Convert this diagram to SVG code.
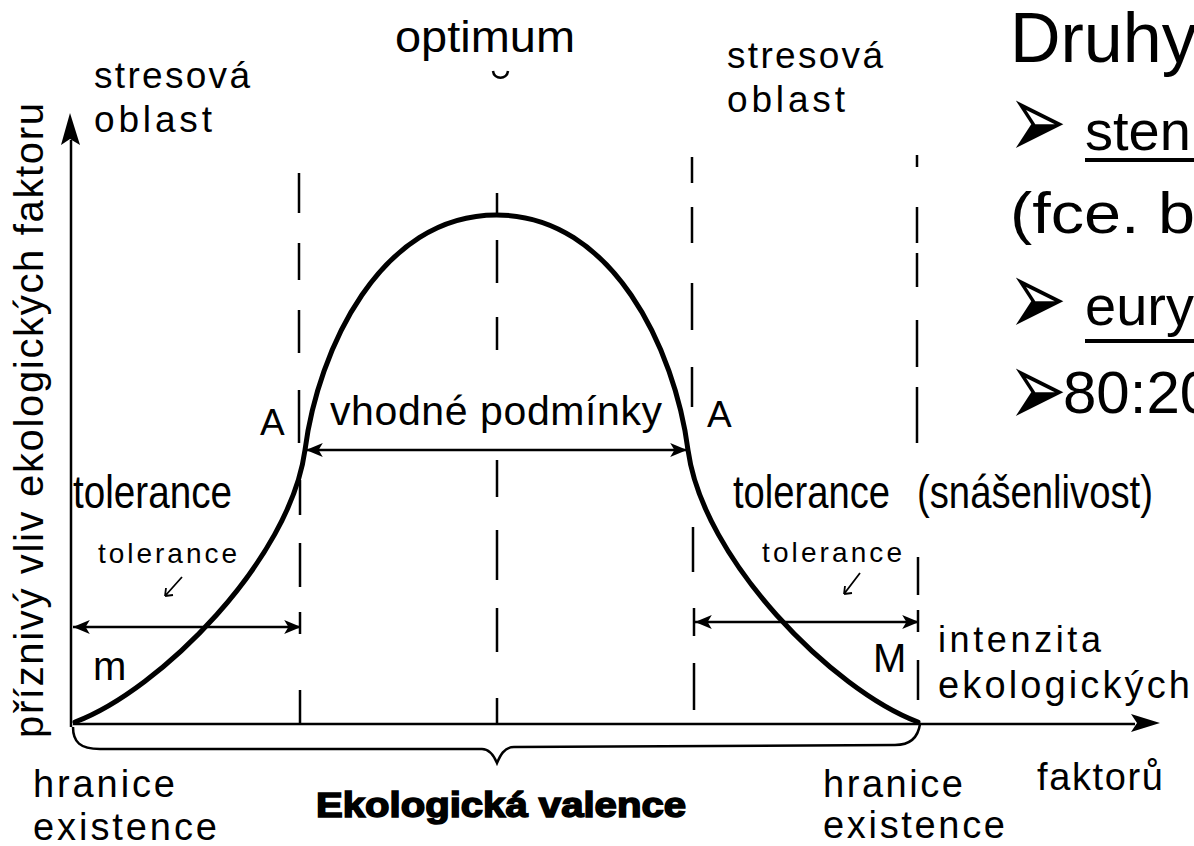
<svg xmlns="http://www.w3.org/2000/svg" width="1194" height="846" viewBox="0 0 1194 846">
<style>
.scan{font-family:"Liberation Sans",Arial,sans-serif;fill:#000;}
.big{font-family:"Liberation Sans",Arial,sans-serif;fill:#000;}
.bul{font-family:"DejaVu Sans",sans-serif;fill:#000;font-size:54px;}
.ax{stroke:#000;stroke-width:2.5;fill:none;}
.dash{stroke:#000;stroke-width:2.5;fill:none;}
.arr{stroke:#000;stroke-width:2.5;fill:none;marker-start:url(#ah);marker-end:url(#ah);}
.curve{stroke:#000;stroke-width:5;fill:none;stroke-linecap:round;}
</style>
<defs>
<marker id="ah" viewBox="0 0 12 10" markerUnits="userSpaceOnUse" markerWidth="20" markerHeight="14" refX="12" refY="5" orient="auto-start-reverse">
<path d="M0,0 L12,5 L0,10 L3,5 z" fill="#000"/>
</marker>
</defs>
<rect width="1194" height="846" fill="#fff"/>

<g id="axes">
<line class="ax" x1="71" y1="727" x2="71" y2="140"/>
<path d="M70,113 L80,145 L70,139 L61,145 z" fill="#000"/>
<line class="ax" x1="73" y1="724" x2="1135" y2="724"/>
<path d="M1160,723 L1131,714 L1137,723 L1131,732 z" fill="#000"/>
</g>

<g id="connectors">
<path class="dash" d="M299,173 V213 M299,243 V280 M299,310 V353 M299,390 V443 M300,480 V515 M300,543 V587 M300,612 V634 M300,690 V723"/>
<path class="dash" d="M497,193 V214 M497,240 V283 M497,317 V350 M497,460 V497 M497,530 V580 M497,608 V652 M497,698 V723"/>
<path class="dash" d="M692,157 V183 M692,207 V243 M692,283 V330 M692,367 V407 M693,527 V572 M694,608 V636 M694,663 V710"/>
<path class="dash" d="M917,155 V167 M917,207 V243 M917,253 V287 M917,320 V367 M917,387 V443 M918,557 V595 M918,610 V632 M918,660 V700"/>
<line class="arr" x1="306" y1="450" x2="687" y2="450"/>
<line class="arr" x1="73" y1="627" x2="301" y2="627"/>
<line class="arr" x1="695" y1="622" x2="919" y2="622"/>
<path d="M182,577 L165,596 M165,596 L166,588 M165,596 L173,595" stroke="#000" stroke-width="1.8" fill="none"/>
<path d="M860,573 L844,594 M844,594 L845,586 M844,594 L852,593" stroke="#000" stroke-width="1.8" fill="none"/>
<path d="M493,71 C494,80 507,80 508,71" stroke="#000" stroke-width="2.5" fill="none"/>
<path class="ax" d="M73,727 C73,742 80,749 100,749 L482,749 C490,749 494,756 497,763 C500,756 504,747 514,747 L895,745 C910,745 918,738 920,724"/>
</g>

<g id="curve">
<path class="curve" d="M75,722 C160,690 290,560 305,450 C318,350 380,215 496.5,215 C613,215 675,350 688,450 C703,560 833,690 918,722"/>
</g>

<g id="labels-scan">
<text class="scan" x="395" y="52" font-size="44" textLength="180" lengthAdjust="spacingAndGlyphs">optimum</text>
<text class="scan" x="94" y="88" font-size="37" textLength="156" lengthAdjust="spacing">stresová</text>
<text class="scan" x="94" y="132" font-size="37" textLength="118" lengthAdjust="spacing">oblast</text>
<text class="scan" x="727" y="68" font-size="37" textLength="156" lengthAdjust="spacing">stresová</text>
<text class="scan" x="727" y="112" font-size="37" textLength="118" lengthAdjust="spacing">oblast</text>
<text class="scan" x="260" y="435" font-size="37">A</text>
<text class="scan" x="330" y="425" font-size="41" textLength="332" lengthAdjust="spacing">vhodné podmínky</text>
<text class="scan" x="707" y="427" font-size="37">A</text>
<text class="scan" x="98" y="563" font-size="28" textLength="139" lengthAdjust="spacing">tolerance</text>
<text class="scan" x="762" y="562" font-size="28" textLength="140" lengthAdjust="spacing">tolerance</text>
<text class="scan" x="93" y="680" font-size="40">m</text>
<text class="scan" x="873" y="672" font-size="40">M</text>
<text class="scan" x="938" y="652" font-size="36" textLength="163" lengthAdjust="spacing">intenzita</text>
<text class="scan" x="938" y="698" font-size="38" textLength="252" lengthAdjust="spacing">ekologických</text>
<text class="scan" x="33" y="797" font-size="38" textLength="142" lengthAdjust="spacing">hranice</text>
<text class="scan" x="33" y="840" font-size="38" textLength="184" lengthAdjust="spacing">existence</text>
<text class="scan" x="823" y="797" font-size="38" textLength="140" lengthAdjust="spacing">hranice</text>
<text class="scan" x="823" y="838" font-size="38" textLength="182" lengthAdjust="spacing">existence</text>
<text class="scan" x="1037" y="790" font-size="38" textLength="126" lengthAdjust="spacing">faktorů</text>
<text class="scan" x="316" y="817" font-size="35" font-weight="900" stroke="#000" stroke-width="1.6" textLength="370" lengthAdjust="spacingAndGlyphs">Ekologická valence</text>
<text class="scan" transform="translate(43,738) rotate(-90)" font-size="40" textLength="635" lengthAdjust="spacing">příznivý vliv ekologických faktoru</text>
</g>

<g id="labels-overlay">
<text class="big" x="73" y="508" font-size="46" textLength="159" lengthAdjust="spacingAndGlyphs">tolerance</text>
<text class="big" x="733" y="508" font-size="46" textLength="157" lengthAdjust="spacingAndGlyphs">tolerance</text>
<text class="big" x="917" y="508" font-size="46" textLength="236" lengthAdjust="spacingAndGlyphs">(snášenlivost)</text>
</g>

<g id="right-panel">
<text class="big" x="1010" y="62" font-size="70">Druhy</text>
<text class="bul" transform="translate(1008,158) scale(1.3,2)">➢</text>
<text class="big" x="1085" y="150" font-size="56">sten</text>
<line x1="1085" y1="160" x2="1194" y2="160" stroke="#000" stroke-width="4"/>
<text class="big" x="1010" y="233" font-size="58" textLength="185" lengthAdjust="spacingAndGlyphs">(fce. b</text>
<text class="bul" transform="translate(1008,335) scale(1.3,2)">➢</text>
<text class="big" x="1085" y="325" font-size="56">eury</text>
<line x1="1085" y1="341" x2="1194" y2="341" stroke="#000" stroke-width="4"/>
<text class="bul" transform="translate(1008,426) scale(1.3,2)">➢</text>
<text class="big" x="1063" y="413" font-size="60">80:20</text>
</g>
</svg>
